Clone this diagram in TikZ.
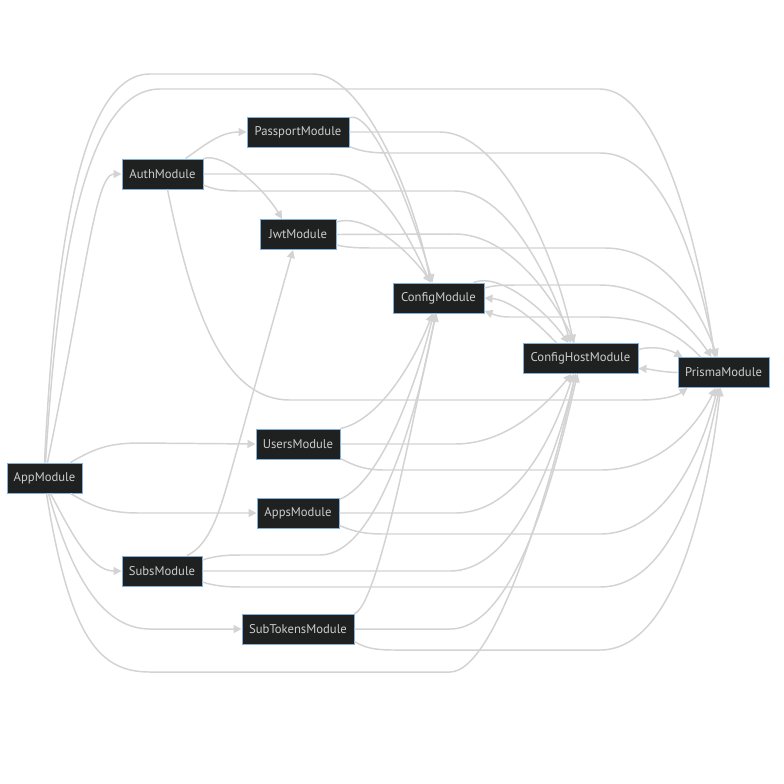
\documentclass[tikz,border=0pt]{standalone}
\usepackage{fontspec}
\setmainfont{PT Sans}
\usepackage{tikz}
\usetikzlibrary{arrows.meta,calc}

\definecolor{modfill}{HTML}{1F2020}
\definecolor{modborder}{HTML}{81B1DB}
\definecolor{modtext}{HTML}{CCCCCC}
\definecolor{edgegray}{HTML}{D3D3D3}

\begin{document}
\begin{tikzpicture}[x=0.75pt,y=-0.75pt,every node/.style={font=\fontsize{9.5}{11}\selectfont},
  module/.style={draw=modborder,fill=modfill,text=modtext,line width=0.75pt,minimum height=22.5pt,inner xsep=2pt},
  dep/.style={draw=edgegray,line width=1.1pt,-{Triangle[length=6pt,width=6pt]}}]
  \fill[white] (0,0) rectangle (784,783);

  \node[module,minimum width=56.25pt] (app) at (44.5,478) {AppModule};
  \node[module,minimum width=60.75pt] (auth) at (162.5,174) {AuthModule};
  \node[module,minimum width=76.5pt] (passport) at (298,132) {PassportModule};
  \node[module,minimum width=57pt] (jwt) at (298,234.5) {JwtModule};
  \node[module,minimum width=68.25pt] (config) at (438.5,298) {ConfigModule};
  \node[module,minimum width=86.25pt] (confighost) at (580.5,358.5) {ConfigHostModule};
  \node[module,minimum width=68.25pt] (prisma) at (723.5,372.5) {PrismaModule};
  \node[module,minimum width=63pt] (users) at (298,444) {UsersModule};
  \node[module,minimum width=61.5pt] (apps) at (298,513) {AppsModule};
  \node[module,minimum width=60pt] (subs) at (162,571) {SubsModule};
  \node[module,minimum width=84pt] (subtokens) at (298,629) {SubTokensModule};

  % AppModule
  \draw[dep] ($(app.north)+(3,0)$) .. controls (85,280) and (95,174) .. (auth.west);
  \draw[dep] (app.north) .. controls (55,250) and (80,74) .. (150,74) -- (313,74)
    .. controls (365,74) and (415,200) .. ($(config.north)+(-8,0)$);
  \draw[dep] ($(app.north)+(1,0)$) .. controls (58,260) and (85,89) .. (160,89) -- (600,89)
    .. controls (660,89) and (700,250) .. ($(prisma.north)+(-9,0)$);
  \draw[dep] ($(app.north east)+(-12,0)$) .. controls (95,448) and (110,443) .. (140,443) -- (users.west);
  \draw[dep] ($(app.south east)+(-12,0)$) .. controls (95,508) and (110,513) .. (140,513) -- (apps.west);
  \draw[dep] ($(app.south)+(6,0)$) .. controls (70,530) and (90,571) .. (subs.west);
  \draw[dep] ($(app.south)+(4,0)$) .. controls (70,570) and (100,629) .. (150,629) -- (subtokens.west);
  \draw[dep] ($(app.south)+(2,0)$) .. controls (70,640) and (100,672) .. (150,672) -- (450,672)
    .. controls (500,672) and (560,450) .. ($(confighost.south)+(-5,0)$);

  % AuthModule
  \draw[dep] ($(auth.north east)+(-18,0)$) .. controls (205,145) and (220,132) .. (passport.west);
  \draw[dep] (auth.north east) .. controls (225,152) and (265,190) .. ($(jwt.north)+(-16,0)$);
  \draw[dep] (auth.east) -- (330,174) .. controls (380,174) and (410,240) .. ($(config.north)+(-8,0)$);
  \draw[dep] ($(auth.east)+(0,11)$) .. controls (215,190) and (225,191) .. (240,191) -- (455,191)
    .. controls (510,191) and (555,290) .. ($(confighost.north)+(-10,0)$);
  \draw[dep] ($(auth.south)+(5,0)$) .. controls (190,300) and (220,400) .. (290,400) -- (640,400)
    .. controls (665,400) and (678,395) .. ($(prisma.south west)+(10,0)$);

  % PassportModule, JwtModule
  \draw[dep] ($(passport.north east)+(0,1)$) .. controls (375,110) and (415,220) .. ($(config.north)+(-6,0)$);
  \draw[dep] (passport.east) -- (440,132) .. controls (500,132) and (555,250) .. ($(confighost.north)+(-7,0)$);
  \draw[dep] ($(passport.south east)+(0,-1)$) .. controls (360,151) and (370,153) .. (390,153) -- (600,153)
    .. controls (670,153) and (700,280) .. ($(prisma.north)+(-8,0)$);
  \draw[dep] ($(jwt.north east)+(0,3)$) .. controls (360,214) and (400,240) .. ($(config.north)+(-7,0)$);
  \draw[dep] (jwt.east) -- (455,234) .. controls (510,234) and (555,300) .. ($(confighost.north)+(-6,0)$);
  \draw[dep] ($(jwt.south east)+(0,-5)$) .. controls (350,248) and (360,248) .. (380,248) -- (605,248)
    .. controls (665,248) and (700,310) .. ($(prisma.north)+(-6,0)$);

  % ConfigModule, ConfigHostModule, PrismaModule
  \draw[dep] ($(config.north east)+(-11,0)$) .. controls (500,272) and (545,310) .. ($(confighost.north)+(-12,0)$);
  \draw[dep] ($(config.east)+(0,-10)$) .. controls (495,285) and (505,285) .. (520,285) -- (600,285)
    .. controls (650,285) and (690,325) .. ($(prisma.north)+(-12,0)$);
  \draw[dep] ($(confighost.north)+(-24,0)$) .. controls (535,320) and (510,300) .. (config.east);
  \draw[dep] ($(prisma.north)+(-23,0)$) .. controls (680,335) and (650,317) .. (600,317) -- (510,317)
    .. controls (500,317) and (495,315) .. ($(config.east)+(0,13)$);
  \draw[dep] ($(confighost.east)+(0,-9)$) .. controls (655,345) and (670,350) .. ($(prisma.north west)+(5,0)$);
  \draw[dep] (prisma.west) .. controls (660,372) and (650,369) .. ($(confighost.east)+(0,10)$);

  % UsersModule, AppsModule
  \draw[dep] (users.north east) .. controls (380,420) and (415,360) .. ($(config.south)+(-6,0)$);
  \draw[dep] (users.east) -- (455,444) .. controls (510,444) and (550,400) .. ($(confighost.south)+(-9,0)$);
  \draw[dep] ($(users.south east)+(0,-1)$) .. controls (355,466) and (365,470) .. (385,470) -- (600,470)
    .. controls (665,470) and (700,420) .. ($(prisma.south)+(-8,0)$);
  \draw[dep] ($(apps.north east)+(0,2)$) .. controls (385,480) and (420,370) .. ($(config.south)+(-5,0)$);
  \draw[dep] (apps.east) -- (455,513) .. controls (520,513) and (555,430) .. ($(confighost.south)+(-7,0)$);
  \draw[dep] ($(apps.south east)+(0,-3)$) .. controls (355,532) and (365,534) .. (385,534) -- (600,534)
    .. controls (670,534) and (705,440) .. ($(prisma.south)+(-6,0)$);

  % SubsModule, SubTokensModule
  \draw[dep] ($(subs.north)+(25,0)$) .. controls (210,545) and (220,510) .. (230,475) -- ($(jwt.south)+(-5,0)$);
  \draw[dep] ($(subs.east)+(0,-11)$) .. controls (215,556) and (225,555) .. (240,555) -- (320,555)
    .. controls (380,555) and (420,400) .. ($(config.south)+(-3,0)$);
  \draw[dep] (subs.east) -- (450,571) .. controls (520,571) and (560,440) .. ($(confighost.south)+(-5,0)$);
  \draw[dep] ($(subs.east)+(0,11)$) .. controls (215,586) and (225,587) .. (245,587) -- (600,587)
    .. controls (675,587) and (705,460) .. ($(prisma.south)+(-4,0)$);
  \draw[dep] (subtokens.north east) .. controls (380,605) and (420,380) .. ($(config.south)+(-2,0)$);
  \draw[dep] (subtokens.east) -- (450,629) .. controls (520,629) and (560,450) .. ($(confighost.south)+(-3,0)$);
  \draw[dep] ($(subtokens.south east)+(0,-3)$) .. controls (365,648) and (375,650) .. (395,650) -- (600,650)
    .. controls (680,650) and (710,480) .. ($(prisma.south)+(-3,0)$);
\end{tikzpicture}
\end{document}
